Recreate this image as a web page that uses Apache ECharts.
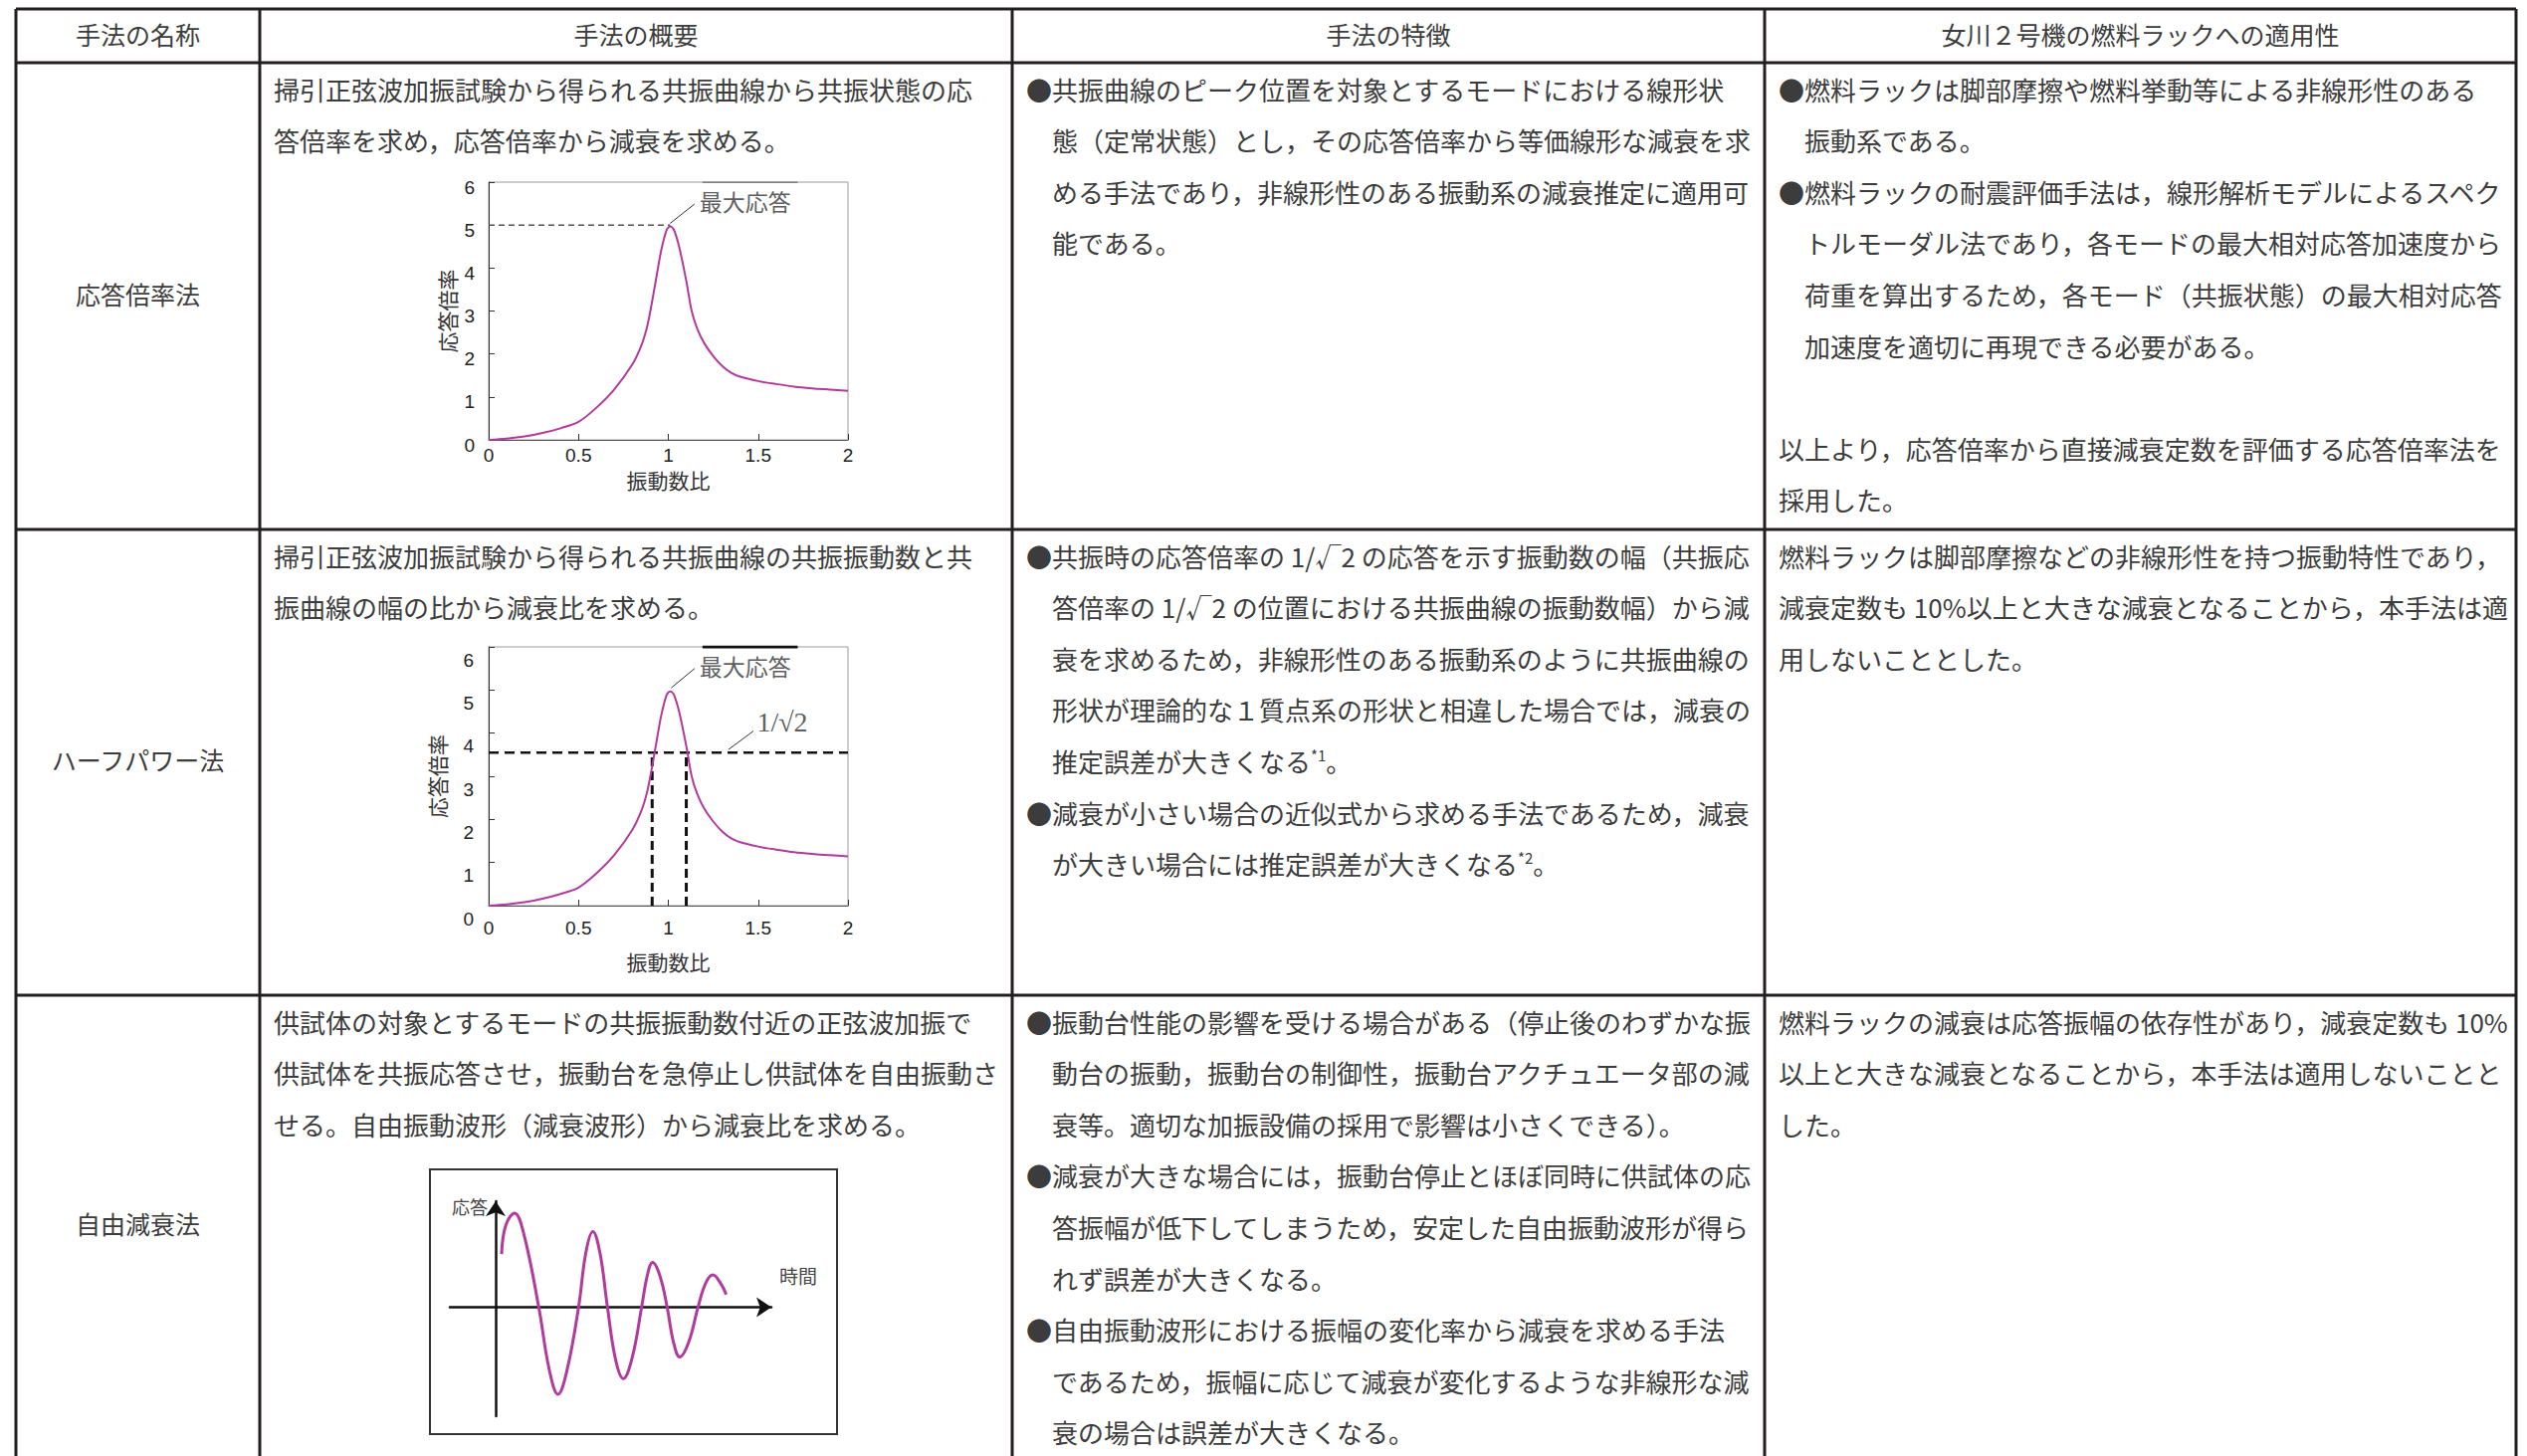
<!DOCTYPE html>
<html><head><meta charset="utf-8">
<script src="https://cdn.jsdelivr.net/npm/echarts@6/dist/echarts.min.js"></script>
<style>html,body{margin:0;padding:0;background:#fff}#c{width:2539px;height:1463px}</style>
</head><body><div id="c"></div>
<script>
// ---------- table texts ----------
const headers = ['手法の名称', '手法の概要', '手法の特徴', '女川２号機の燃料ラックへの適用性'];
const methodNames = ['応答倍率法', 'ハーフパワー法', '自由減衰法'];
const overviewText = [
  ['掃引正弦波加振試験から得られる共振曲線から共振状態の応', '答倍率を求め，応答倍率から減衰を求める。'],
  ['掃引正弦波加振試験から得られる共振曲線の共振振動数と共', '振曲線の幅の比から減衰比を求める。'],
  ['供試体の対象とするモードの共振振動数付近の正弦波加振で', '供試体を共振応答させ，振動台を急停止し供試体を自由振動さ', 'せる。自由振動波形（減衰波形）から減衰比を求める。']
];
const featureText = [
  ['●共振曲線のピーク位置を対象とするモードにおける線形状', '態（定常状態）とし，その応答倍率から等価線形な減衰を求', 'める手法であり，非線形性のある振動系の減衰推定に適用可', '能である。'],
  ['●共振時の応答倍率の 1/√2 の応答を示す振動数の幅（共振応', '答倍率の 1/√2 の位置における共振曲線の振動数幅）から減', '衰を求めるため，非線形性のある振動系のように共振曲線の', '形状が理論的な１質点系の形状と相違した場合では，減衰の', '推定誤差が大きくなる{sup|*1}。', '●減衰が小さい場合の近似式から求める手法であるため，減衰', 'が大きい場合には推定誤差が大きくなる{sup|*2}。'],
  ['●振動台性能の影響を受ける場合がある（停止後のわずかな振', '動台の振動，振動台の制御性，振動台アクチュエータ部の減', '衰等。適切な加振設備の採用で影響は小さくできる）。', '●減衰が大きな場合には，振動台停止とほぼ同時に供試体の応', '答振幅が低下してしまうため，安定した自由振動波形が得ら', 'れず誤差が大きくなる。', '●自由振動波形における振幅の変化率から減衰を求める手法', 'であるため，振幅に応じて減衰が変化するような非線形な減', '衰の場合は誤差が大きくなる。']
];
const applicabilityText = [
  ['●燃料ラックは脚部摩擦や燃料挙動等による非線形性のある', '振動系である。', '●燃料ラックの耐震評価手法は，線形解析モデルによるスペク', 'トルモーダル法であり，各モードの最大相対応答加速度から', '荷重を算出するため，各モード（共振状態）の最大相対応答', '加速度を適切に再現できる必要がある。', '', '以上より，応答倍率から直接減衰定数を評価する応答倍率法を', '採用した。'],
  ['燃料ラックは脚部摩擦などの非線形性を持つ振動特性であり，', '減衰定数も 10%以上と大きな減衰となることから，本手法は適', '用しないこととした。'],
  ['燃料ラックの減衰は応答振幅の依存性があり，減衰定数も 10%', '以上と大きな減衰となることから，本手法は適用しないことと', 'した。']
];

// ---------- resonance curve ----------
const freqRatio = [0, 0.1, 0.2, 0.3, 0.4, 0.5, 0.6, 0.7, 0.8, 0.85, 0.88, 0.9, 0.93, 0.96, 0.99, 1.01, 1.03, 1.06, 1.1, 1.13, 1.16, 1.2, 1.25, 1.3, 1.35, 1.4, 1.5, 1.6, 1.7, 1.8, 1.9, 2.0];
const responseRatio = [0, 0.03, 0.08, 0.16, 0.27, 0.42, 0.75, 1.18, 1.76, 2.2, 2.6, 3.0, 3.7, 4.4, 4.88, 4.97, 4.9, 4.5, 3.7, 3.0, 2.6, 2.25, 1.95, 1.72, 1.56, 1.47, 1.37, 1.3, 1.24, 1.2, 1.17, 1.14];
const xTickLabels = ['0', '0.5', '1', '1.5', '2'];
const peakResponse = 5;
const peakRatio = 1.01;
const halfPowerLevel = 3.55;
const halfPowerRatios = [0.91, 1.10];
const peakLabel = '最大応答';
const halfPowerLabel = '1/√2';
const peakLeader1 = [[1.01, 5.04], [1.146, 5.49]];
const peakLeader2 = [[1.016, 5.05], [1.147, 5.5]];
const peakLabelPos = [1.17, 5.56];
const halfLeader = [[1.335, 3.62], [1.474, 4.05]];
const halfLabelPos = [1.49, 4.25];
const topMark = [[1.19, 6], [1.72, 6]];

// ---------- free decay wave ----------
const decayTime = [0.18, 0.3, 0.57, 0.85, 1.3, 1.62, 1.88, 2.15, 2.5, 2.72, 2.93, 3.15, 3.37, 3.62, 3.85, 4.12, 4.4, 4.57, 4.73, 4.95, 5.17, 5.36, 5.55, 5.82, 6.1, 6.33, 6.55, 6.78, 6.95];
const decayResponse = [1.6, 2.45, 2.83, 2.2, 0, -1.9, -2.62, -1.9, 0, 1.65, 2.28, 1.6, 0, -1.6, -2.15, -1.5, 0, 0.95, 1.35, 0.95, 0, -1.05, -1.5, -1.05, 0, 0.72, 0.97, 0.72, 0.38];

// ---------- layout ----------
const colX = [16, 261, 1017, 1773, 2528];
const rowY = [9, 63, 532, 1000, 1464];
const JP = '"Noto Sans CJK JP", sans-serif';
const NUM = '"Liberation Sans", Arial, sans-serif';
const TXT = '#3c3c3c';
const CURVE = '#b23a9d';
const FS = 26, LINE = 51.6, PADX = 14, INDENT = 26;

const els = [];
const lineStyle = {stroke: '#231f20', lineWidth: 3};
rowY.slice(0, 4).forEach(y => els.push({type: 'line', shape: {x1: colX[0], y1: y, x2: colX[4], y2: y}, style: lineStyle, z: 100}));
colX.forEach(x => els.push({type: 'line', shape: {x1: x, y1: rowY[0], x2: x, y2: 1463}, style: lineStyle, z: 100}));
headers.forEach((h, i) => els.push({type: 'text', x: (colX[i] + colX[i + 1]) / 2, y: (rowY[0] + rowY[1]) / 2 - 2,
  style: {text: h, fontSize: 25, fontFamily: JP, fill: TXT, align: 'center', verticalAlign: 'middle'}}));
methodNames.forEach((m, r) => els.push({type: 'text', x: (colX[0] + colX[1]) / 2, y: (rowY[r + 1] + rowY[r + 2]) / 2 - 3,
  style: {text: m, fontSize: 25, fontFamily: JP, fill: TXT, align: 'center', verticalAlign: 'middle'}}));
const rich = {sup: {fontSize: 15, fontFamily: JP, fill: TXT, verticalAlign: 'top', padding: [0, 0, 12, 0]}};
function cellText(lines, col, r) {
  let indent = false;
  lines.forEach((t, i) => {
    if (t === '') { indent = false; return; }
    let off = 0;
    if (t.charAt(0) === '●') indent = true; else if (indent) off = INDENT;
    els.push({type: 'text', x: colX[col] + PADX + off, y: rowY[r + 1] + 26 + i * LINE,
      style: {text: t, fontSize: FS, fontFamily: JP, fill: TXT, align: 'left', verticalAlign: 'middle', rich: rich}});
  });
}
overviewText.forEach((l, r) => cellText(l, 1, r));
featureText.forEach((l, r) => cellText(l, 2, r));
applicabilityText.forEach((l, r) => cellText(l, 3, r));
els.push({type: 'rect', shape: {x: 432, y: 1175, width: 409, height: 266}, style: {fill: 'none', stroke: '#333', lineWidth: 2}});
els.push({type: 'text', x: 472, y: 1212, style: {text: '応答', fontSize: 18, fontFamily: JP, fill: '#444', align: 'center', verticalAlign: 'middle'}});
els.push({type: 'text', x: 802, y: 1281, style: {text: '時間', fontSize: 19, fontFamily: JP, fill: '#444', align: 'center', verticalAlign: 'middle'}});

const curve = freqRatio.map((x, i) => [x, responseRatio[i]]);
const decay = decayTime.map((t, i) => [t, decayResponse[i]]);

function respX(gi, labelMargin, nameGap) {
  return {gridIndex: gi, type: 'value', min: 0, max: 2, interval: 0.5,
    axisLine: {show: true, onZero: false, lineStyle: {color: '#555', width: 1}},
    axisTick: {show: true, inside: true, length: 6, lineStyle: {color: '#333'}},
    axisLabel: {margin: labelMargin, fontSize: 19, color: '#222', fontFamily: NUM,
      formatter: v => xTickLabels[Math.round(v / 0.5)]},
    splitLine: {show: false},
    name: '振動数比', nameLocation: 'middle', nameGap: nameGap,
    nameTextStyle: {fontSize: 21, color: '#333', fontFamily: JP}};
}
function respY(gi, labelMargin, nameGap, lh) {
  return {gridIndex: gi, type: 'value', min: 0, max: 6, interval: 1,
    axisLine: {show: true, onZero: false, lineStyle: {color: '#333', width: 1}},
    axisTick: {show: true, inside: true, length: 6, lineStyle: {color: '#333'}},
    axisLabel: {margin: labelMargin, fontSize: 19, color: '#222', fontFamily: NUM, verticalAlign: 'top', lineHeight: lh},
    splitLine: {show: false},
    name: '応答倍率', nameLocation: 'middle', nameGap: nameGap, nameRotate: 90,
    nameTextStyle: {fontSize: 21, color: '#333', fontFamily: JP}};
}
function seg(gi, data, color, width, type) {
  return {type: 'line', xAxisIndex: gi, yAxisIndex: gi, data: data, symbol: 'none', silent: true,
    lineStyle: {color: color, width: width, type: type || 'solid'}, z: 3};
}
function lbl(gi, pos, text, font, size) {
  return {type: 'scatter', xAxisIndex: gi, yAxisIndex: gi, data: [pos], symbolSize: 1,
    itemStyle: {color: 'rgba(0,0,0,0)'}, silent: true, z: 5,
    label: {show: true, position: 'right', distance: 0, formatter: text, fontSize: size, fontFamily: font, color: '#333'}};
}

const option = {
  animation: false,
  backgroundColor: '#fff',
  grid: [
    {left: 491, top: 183, width: 361, height: 259, show: true, borderColor: '#9a9a9a', borderWidth: 1},
    {left: 491, top: 650, width: 361, height: 260, show: true, borderColor: '#9a9a9a', borderWidth: 1},
    {left: 452, top: 1207, width: 323, height: 216}
  ],
  xAxis: [
    respX(0, 6, 29),
    respX(1, 13, 45),
    {gridIndex: 2, type: 'value', min: -1.38, max: 8.31,
      axisLine: {show: true, onZero: true, symbol: ['none', 'arrow'], symbolSize: [15, 15], lineStyle: {color: '#111', width: 2.5}},
      axisTick: {show: false}, axisLabel: {show: false}, splitLine: {show: false}}
  ],
  yAxis: [
    respY(0, 14, 32, 10),
    respY(1, 15, 42, 26),
    {gridIndex: 2, type: 'value', min: -3.28, max: 3.19,
      axisLine: {show: true, onZero: true, symbol: ['none', 'arrow'], symbolSize: [15, 15], lineStyle: {color: '#111', width: 2.5}},
      axisTick: {show: false}, axisLabel: {show: false}, splitLine: {show: false}}
  ],
  series: [
    {type: 'line', xAxisIndex: 0, yAxisIndex: 0, data: curve, smooth: 0.3, symbol: 'none', lineStyle: {color: CURVE, width: 2}, z: 4},
    seg(0, [[0, peakResponse], [peakRatio, peakResponse]], '#555', 1.5, [6, 4]),
    seg(0, peakLeader1, '#333', 1),
    lbl(0, peakLabelPos, peakLabel, JP, 23),
    seg(0, topMark, '#333', 1.2),
    {type: 'line', xAxisIndex: 1, yAxisIndex: 1, data: curve, smooth: 0.3, symbol: 'none', lineStyle: {color: CURVE, width: 2}, z: 4},
    seg(1, [[0, halfPowerLevel], [2, halfPowerLevel]], '#111', 2.5, [10, 6]),
    seg(1, [[halfPowerRatios[0], 0], [halfPowerRatios[0], halfPowerLevel]], '#111', 3, [9, 5]),
    seg(1, [[halfPowerRatios[1], 0], [halfPowerRatios[1], halfPowerLevel]], '#111', 3, [9, 5]),
    seg(1, peakLeader2, '#333', 1),
    lbl(1, peakLabelPos, peakLabel, JP, 23),
    seg(1, halfLeader, '#333', 1),
    lbl(1, halfLabelPos, halfPowerLabel, '"Liberation Serif", "DejaVu Serif", serif', 28),
    seg(1, topMark, '#111', 3),
    {type: 'line', xAxisIndex: 2, yAxisIndex: 2, data: decay, smooth: 0.4, symbol: 'none', lineStyle: {color: CURVE, width: 3}, z: 4}
  ],
  graphic: {elements: els}
};
const chart = echarts.init(document.getElementById('c'), null, {renderer: 'svg', width: 2539, height: 1463});
chart.setOption(option);
</script>
</body></html>
